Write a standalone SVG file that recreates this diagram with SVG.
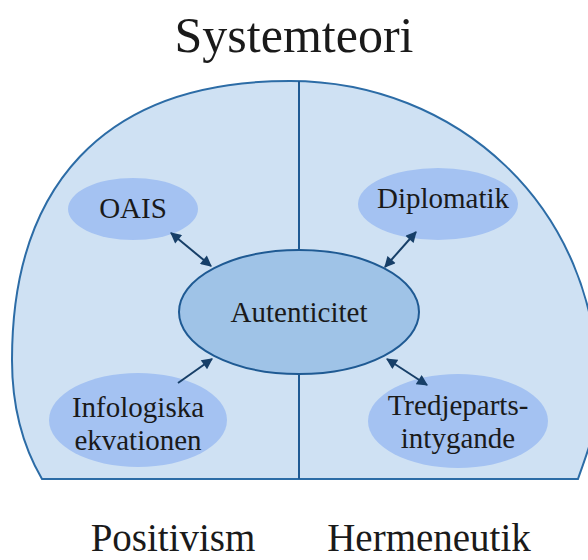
<svg xmlns="http://www.w3.org/2000/svg" width="588" height="560" viewBox="0 0 588 560">
<style>
text{font-family:"Liberation Serif","Times New Roman",serif;fill:#1a1a1a;text-anchor:middle}
.t{font-size:29px}
.sub{fill:#a4c2f2;stroke:none}
.con{stroke:#173f68;stroke-width:2;fill:none}
</style>
<defs>
<marker id="ah" viewBox="0 0 10 10" refX="9" refY="5" markerWidth="6.5" markerHeight="5.5" orient="auto-start-reverse" markerUnits="strokeWidth">
<path d="M0,0 L10,5 L0,10 z" fill="#173f68"/>
</marker>
</defs>
<rect width="588" height="560" fill="#ffffff"/>
<text x="294" y="52" style="font-size:50px">Systemteori</text>
<g id="dome">
<path d="M42,479 C25,450 12,410 12,360 C12,190 100,81 290,81 C455,81 598,205 598,390 C598,430 586,455 578,479 Z" fill="#cfe1f3" stroke="#2c6ca6" stroke-width="2"/>
<line x1="299" y1="81" x2="299" y2="479" stroke="#1f5a93" stroke-width="2"/>
</g>
<g id="autenticitet">
<ellipse cx="299" cy="312" rx="120" ry="62" fill="#9fc3e7" stroke="#1f5a93" stroke-width="2"/>
<text class="t" x="299" y="322">Autenticitet</text>
</g>
<g id="oais">
<ellipse class="sub" cx="133" cy="209" rx="65" ry="31"/>
<text class="t" x="133" y="218">OAIS</text>
</g>
<g id="diplomatik">
<ellipse class="sub" cx="438" cy="204" rx="80" ry="36"/>
<text class="t" x="443" y="208">Diplomatik</text>
</g>
<g id="infologiska">
<ellipse class="sub" cx="138" cy="420" rx="89" ry="47"/>
<text class="t" x="138" y="417">Infologiska</text>
<text class="t" x="138" y="450">ekvationen</text>
</g>
<g id="tredjeparts">
<ellipse class="sub" cx="458" cy="421" rx="90" ry="47"/>
<text class="t" x="458" y="415">Tredjeparts-</text>
<text class="t" x="458" y="448">intygande</text>
</g>
<g id="connectors">
<line class="con" x1="171" y1="233" x2="211" y2="266" marker-start="url(#ah)" marker-end="url(#ah)"/>
<line class="con" x1="416" y1="232" x2="385" y2="267" marker-start="url(#ah)" marker-end="url(#ah)"/>
<line class="con" x1="178" y1="383" x2="212" y2="359" marker-end="url(#ah)"/>
<line class="con" x1="387" y1="359" x2="427" y2="385" marker-start="url(#ah)" marker-end="url(#ah)"/>
</g>
<text x="173" y="551" style="font-size:39px">Positivism</text>
<text x="429" y="551" style="font-size:39px">Hermeneutik</text>
</svg>
